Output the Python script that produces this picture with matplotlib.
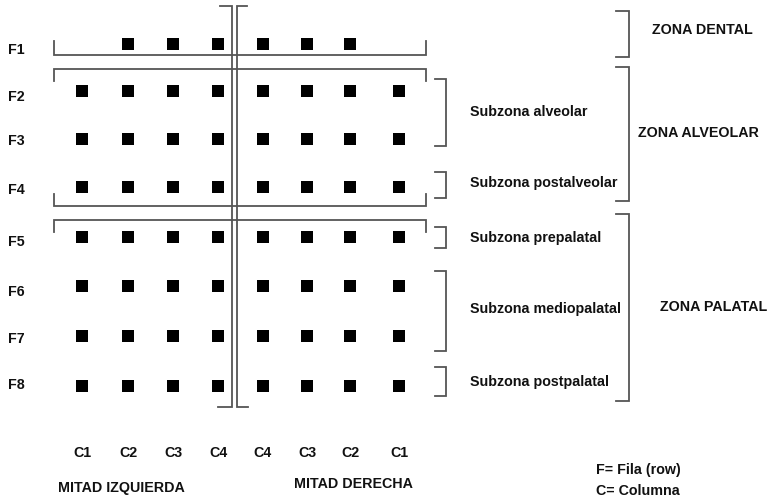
import numpy as np
import matplotlib
matplotlib.use("Agg")
import matplotlib.pyplot as plt

plt.rcParams['font.family'] = ['Liberation Sans', 'DejaVu Sans']

# categories
ROWS = ['F1', 'F2', 'F3', 'F4', 'F5', 'F6', 'F7', 'F8']
COLS = ['C1', 'C2', 'C3', 'C4', 'C4', 'C3', 'C2', 'C1']
# 1 = square present (F1 has no C1 on either half)
PRESENT = [
    [0, 1, 1, 1, 1, 1, 1, 0],
    [1, 1, 1, 1, 1, 1, 1, 1],
    [1, 1, 1, 1, 1, 1, 1, 1],
    [1, 1, 1, 1, 1, 1, 1, 1],
    [1, 1, 1, 1, 1, 1, 1, 1],
    [1, 1, 1, 1, 1, 1, 1, 1],
    [1, 1, 1, 1, 1, 1, 1, 1],
    [1, 1, 1, 1, 1, 1, 1, 1],
]
HALVES = ['MITAD IZQUIERDA', 'MITAD DERECHA']
SUBZONES = ['Subzona alveolar', 'Subzona postalveolar', 'Subzona prepalatal',
            'Subzona mediopalatal', 'Subzona postpalatal']
ZONES = ['ZONA DENTAL', 'ZONA ALVEOLAR', 'ZONA PALATAL']
NOTES = ['F= Fila (row)', 'C= Columna']

# layout (pixel coords of the drawing)
col_x = [82, 128, 173, 218, 263, 307, 350, 399]
row_y = [45, 92, 140, 188, 238, 287, 337, 387]
row_lab_y = [50, 97, 141, 190, 242, 292, 339, 385]
LC = '#555555'
LW = 1.3
FS = 10.3

fig = plt.figure(figsize=(7.74, 5.02), dpi=100)
ax = fig.add_axes([0, 0, 1, 1])
ax.set_xlim(0, 774)
ax.set_ylim(502, 0)
ax.axis('off')

mask = np.array(PRESENT, dtype=bool)
xx, yy = np.meshgrid(col_x, row_y)
ax.scatter(xx[mask], yy[mask], marker='s', s=72, color='black', linewidths=0)


def line(xs, ys):
    ax.plot(xs, ys, color=LC, lw=LW, solid_joinstyle='miter')


def label(x, y, t, ha='left', fs=FS):
    ax.text(x, y, t, fontsize=fs, fontweight='bold', va='center', ha=ha,
            color='#111111')


# F1 bracket
line([54, 54, 426, 426], [42, 56, 56, 42])
# F2-F4 box
line([54, 54, 426, 426], [82, 70, 70, 82])
line([54, 54, 426, 426], [195, 207, 207, 195])
# F5-F8 top
line([54, 54, 426, 426], [233, 221, 221, 233])
# centre lines
line([220, 232, 232, 218], [7, 7, 408, 408])
line([247, 237, 237, 248], [7, 7, 408, 408])

# subzone brackets
sub_br = [(80, 147), (173, 199), (228, 249), (272, 352), (368, 397)]
sub_txt_y = [112, 183, 238, 309, 382]
for (y0, y1), t, ty in zip(sub_br, SUBZONES, sub_txt_y):
    line([435, 446, 446, 435], [y0, y0, y1, y1])
    label(470, ty, t)

# zone brackets
zone_br = [(12, 58), (68, 202), (215, 402)]
zone_txt = [(652, 30), (638, 133), (660, 307)]
for (y0, y1), t, (tx, ty) in zip(zone_br, ZONES, zone_txt):
    line([616, 629, 629, 616], [y0, y0, y1, y1])
    label(tx, ty, t)

# row labels
for r, y in zip(ROWS, row_lab_y):
    label(16, y, r, ha='center')

# column labels
for c, x in zip(COLS, col_x):
    label(x, 453, c, ha='center')

label(121, 488, HALVES[0], ha='center')
label(353, 484, HALVES[1], ha='center')
label(596, 470, NOTES[0])
label(596, 491, NOTES[1])

fig.savefig("out.png", dpi=100)
